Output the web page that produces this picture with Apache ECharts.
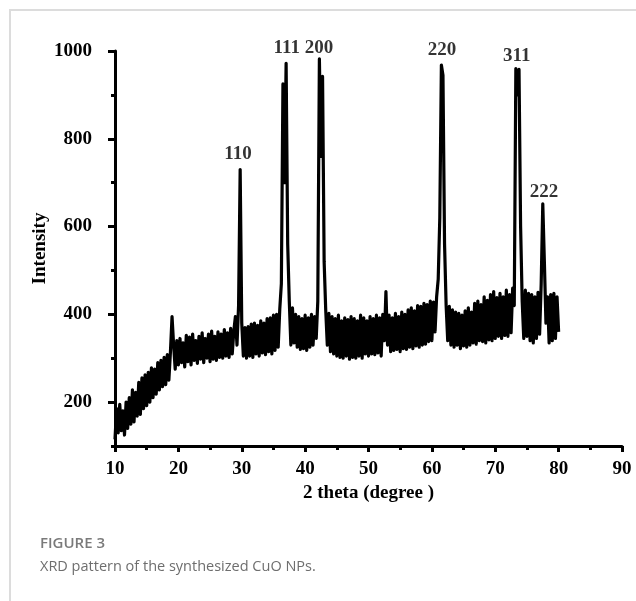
<!DOCTYPE html>
<html>
<head>
<meta charset="utf-8">
<script src="https://cdn.jsdelivr.net/npm/echarts@6/dist/echarts.min.js"></script>
<style>
html,body{margin:0;padding:0;background:#fff;}
#chart{width:636px;height:601px;}
</style>
</head>
<body>
<div id="chart"></div>
<script>
// 2-theta grid: start and step of the measured scan
var thetaStart = 10;
var thetaStep = 0.25;
// Intensity values (one per 0.25 degree, 10 to 80)
var intensity = [
  115,185,130,195, 135,180,125,200, 140,210,150,228, 155,222,168,245, 172,255,185,262,
  192,268,200,278, 210,275,218,290, 228,295,235,302, 240,308,250,315, 395,330,275,340,
  285,345,290,335, 280,352,292,348, 285,355,295,340, 288,350,298,358, 290,345,300,355,
  292,362,298,350, 295,360,302,355, 300,365,305,358, 302,368,310,362, 395,330,420,730,
  380,305,370,300, 372,305,378,302, 380,310,375,305, 385,312,380,308, 390,315,392,310,
  398,318,400,325, 412,470,925,700, 972,560,430,330, 415,335,400,325, 395,320,390,322,
  398,318,392,325, 400,330,395,345, 430,982,760,942, 520,410,330,402, 315,395,310,390,
  305,398,302,385, 300,392,305,388, 298,395,302,390, 300,385,305,398, 300,392,310,385,
  305,395,310,390, 308,398,312,392, 305,400,340,452, 330,398,315,392, 318,402,320,395,
  315,405,322,400, 320,410,325,415, 322,408,328,420, 325,418,330,425, 332,422,338,430,
  340,428,360,440, 480,620,968,945, 560,420,340,418, 330,410,325,405, 330,402,322,398,
  328,408,325,415, 330,405,335,425, 332,430,340,422, 338,440,335,432, 342,445,340,452,
  345,438,350,448, 345,440,352,455, 350,445,358,460, 420,960,900,958, 600,430,345,455,
  350,448,340,445, 335,440,345,450, 355,470,652,520, 380,440,335,445, 340,448,345,440,
  360
];
// Peak (hkl) labels and their positions
var peakNames = ['110','111','200','220','311','222'];
var peakLabelX = [29.4, 37.1, 42.2, 61.6, 73.4, 77.7];
var peakLabelY = [765, 1007, 1007, 1003, 989, 678];
// Axis ticks
var yMajor = [200, 400, 600, 800, 1000];
var yMinor = [100, 300, 500, 700, 900];

var lineData = intensity.map(function (v, i) { return [thetaStart + thetaStep * i, v]; });
var labelData = peakNames.map(function (n, i) { return { name: n, value: [peakLabelX[i], peakLabelY[i]] }; });

var serif = '"Liberation Serif", "Times New Roman", serif';
var chart = echarts.init(document.getElementById('chart'), null, { renderer: 'canvas' });
chart.setOption({
  animation: false,
  backgroundColor: '#fff',
  grid: { left: 115, right: 14, top: 51, bottom: 155 },
  xAxis: {
    type: 'value', min: 10, max: 90, interval: 10,
    name: '2 theta (degree )', nameLocation: 'middle', nameGap: 38, nameMoveOverlap: false,
    nameTextStyle: { fontFamily: serif, fontWeight: 'bold', fontSize: 19, color: '#000' },
    axisLine: { show: true, onZero: false, lineStyle: { color: '#000', width: 3 } },
    axisTick: { show: true, length: 6, lineStyle: { color: '#000', width: 3 } },
    minorTick: { show: true, splitNumber: 2, length: 4, lineStyle: { color: '#000', width: 3 } },
    axisLabel: { fontFamily: serif, fontWeight: 'bold', fontSize: 19, color: '#000', margin: 14 },
    splitLine: { show: false }
  },
  yAxis: [{
    type: 'value', min: 100, max: 1000,
    name: 'Intensity', nameLocation: 'middle', nameGap: 65, nameRotate: 90, nameMoveOverlap: false,
    nameTextStyle: { fontFamily: serif, fontWeight: 'bold', fontSize: 19, color: '#000' },
    axisLine: { show: true, onZero: false, lineStyle: { color: '#000', width: 3 } },
    axisTick: { show: true, length: 7, customValues: yMajor, lineStyle: { color: '#000', width: 3 } },
    axisLabel: { fontFamily: serif, fontWeight: 'bold', fontSize: 19, color: '#000', margin: 23,
      customValues: yMajor, formatter: function (v) { return String(v); } },
    splitLine: { show: false }
  }, {
    type: 'value', min: 100, max: 1000, position: 'left',
    axisLine: { show: false },
    axisTick: { show: true, length: 4, customValues: yMinor, lineStyle: { color: '#000', width: 3 } },
    axisLabel: { show: false },
    splitLine: { show: false }
  }],
  series: [{
    type: 'line', data: lineData, showSymbol: false, symbol: 'none',
    lineStyle: { color: '#000', width: 3.2, join: 'round' }, z: 3
  }, {
    type: 'scatter', data: labelData, symbolSize: 0, clip: false, silent: true,
    label: {
      show: true, position: 'inside', formatter: '{b}',
      fontFamily: serif, fontWeight: 'bold', fontSize: 19, color: '#000'
    }
  }],
  graphic: [
    { type: 'line', shape: { x1: 9, y1: 10, x2: 636, y2: 10 }, style: { stroke: '#dcdcdc', lineWidth: 2 } },
    { type: 'line', shape: { x1: 10, y1: 10, x2: 10, y2: 601 }, style: { stroke: '#dcdcdc', lineWidth: 2 } },
    { type: 'text', left: 40, top: 536, style: { text: 'FIGURE 3', fill: '#7a7a7a', font: '600 15px "Open Sans", "Noto Sans", sans-serif' } },
    { type: 'text', left: 40, top: 559, style: { text: 'XRD pattern of the synthesized CuO NPs.', fill: '#6e6e6e', font: '14.5px "Open Sans", "Noto Sans", sans-serif' } }
  ]
});
</script>
</body>
</html>
